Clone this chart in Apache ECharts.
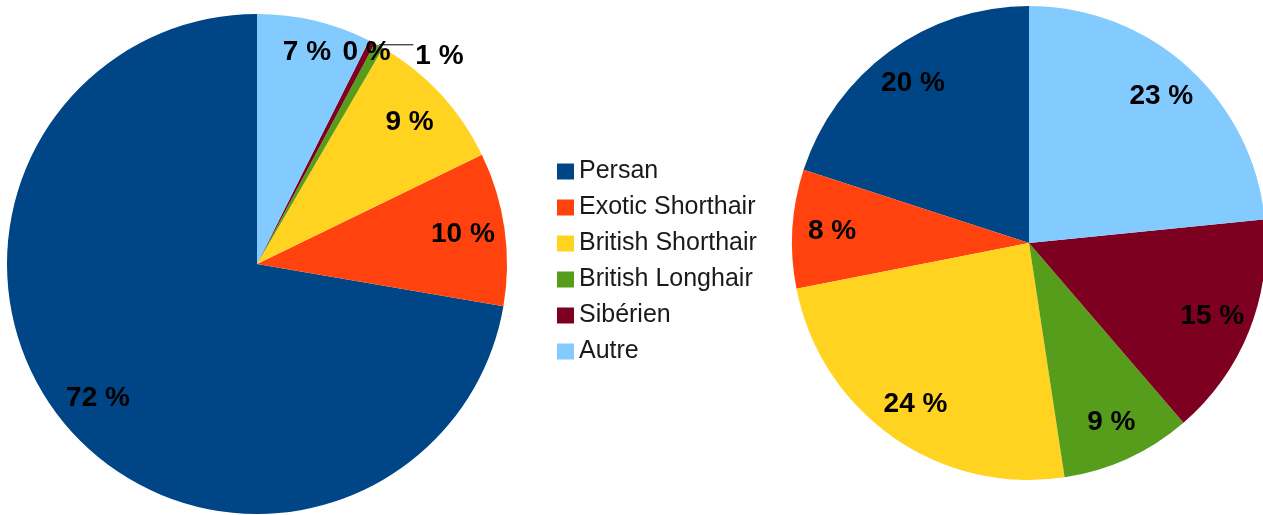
<!DOCTYPE html>
<html>
<head>
<meta charset="utf-8">
<script src="https://cdn.jsdelivr.net/npm/echarts@6/dist/echarts.min.js"></script>
<style>
  html, body { margin: 0; padding: 0; background: #fff; }
  #main { width: 1263px; height: 515px; }
</style>
</head>
<body>
<div id="main"></div>
<script>
// races de chats, part (%)
const categories = ['Persan', 'Exotic Shorthair', 'British Shorthair', 'British Longhair', 'Sibérien', 'Autre'];
const colors = ['#004586', '#ff420e', '#ffd320', '#579d1c', '#7e0021', '#83caff'];
const leftValues = [72.3, 9.9, 9.4, 0.6, 0.4, 7.4];
const rightValues = [20.0, 8.1, 24.3, 8.9, 15.3, 23.4];

const font = 'Liberation Sans, Arial, sans-serif';

function pieData(values) {
  return categories.map((name, i) => ({ name: name, value: values[i], itemStyle: { color: colors[i] } }));
}

// labels du camembert de gauche : quelques ajustements comme dans l'original
function leftLabels() {
  return categories.map((name, i) => {
    let item = { name: name, value: leftValues[i] };
    if (name === 'British Longhair') {
      item.label = { position: 'outside', offset: [0, 11], distanceToLabelLine: 2 };
      item.labelLine = { show: true, length: 1, length2: 34, lineStyle: { color: '#000', width: 1 } };
    } else if (name === 'Sibérien') {
      item.label = { offset: [14, -27] };
    } else if (name === 'Autre') {
      item.label = { offset: [2, -9] };
    }
    return item;
  });
}

function mainPie(center, r, values) {
  return {
    type: 'pie',
    center: center,
    radius: [0, r],
    startAngle: 90,
    clockwise: false,
    silent: true,
    label: { show: false },
    labelLine: { show: false },
    data: pieData(values)
  };
}

// série transparente pour placer les étiquettes vers l'extérieur des parts
function labelPie(center, r, data) {
  return {
    type: 'pie',
    center: center,
    radius: [r * 0.64, r],
    startAngle: 90,
    clockwise: false,
    silent: true,
    avoidLabelOverlap: false,
    labelLayout: { hideOverlap: false },
    itemStyle: { color: 'rgba(0,0,0,0)' },
    label: {
      show: true,
      position: 'inside',
      formatter: p => Math.round(p.value) + ' %',
      fontFamily: font,
      fontWeight: 'bold',
      fontSize: 28,
      color: '#000'
    },
    labelLine: { show: false },
    data: data
  };
}

const chart = echarts.init(document.getElementById('main'));
chart.setOption({
  animation: false,
  backgroundColor: '#fff',
  legend: {
    data: categories,
    orient: 'vertical',
    left: 552,
    top: 154,
    icon: 'rect',
    itemWidth: 17,
    itemHeight: 16,
    itemGap: 11,
    selectedMode: false,
    textStyle: { fontFamily: font, fontSize: 25, color: '#1a1a1a' }
  },
  series: [
    mainPie([257, 264], 250, leftValues),
    mainPie([1029, 243], 237, rightValues),
    labelPie([257, 264], 250, leftLabels()),
    labelPie([1029, 243], 237, categories.map((name, i) => ({ name: name, value: rightValues[i] })))
  ]
});
</script>
</body>
</html>
